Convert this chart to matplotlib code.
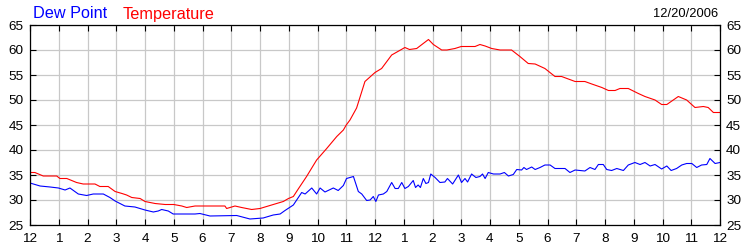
import matplotlib
matplotlib.use("Agg")
import matplotlib.pyplot as plt

plt.rcParams['font.family'] = ['Liberation Sans', 'DejaVu Sans']

# Hours since midnight (0..24)
temp_hours = [0.0, 0.17, 0.46, 0.93, 1.04, 1.28, 1.45, 1.62, 1.85, 2.26, 2.43, 2.72, 2.96,
              3.2, 3.36, 3.54, 3.83, 4.0, 4.35, 4.7, 5.0, 5.28, 5.45, 5.74, 6.03, 6.26,
              6.78, 6.84, 7.13, 7.36, 7.71, 8.0, 8.23, 8.52, 8.81, 8.99, 9.16, 9.33,
              9.62, 9.97, 10.32, 10.67, 10.9, 11.0, 11.13, 11.36, 11.65, 12.0, 12.23,
              12.58, 13.04, 13.2, 13.45, 13.86, 14.03, 14.32, 14.5, 14.78, 15.0, 15.48,
              15.65, 15.83, 16.06, 16.35, 16.75, 17.04, 17.33, 17.57, 17.91, 18.26,
              18.49, 18.96, 19.3, 19.54, 19.89, 20.12, 20.35, 20.52, 20.81, 21.16,
              21.39, 21.74, 21.97, 22.15, 22.55, 22.84, 23.13, 23.42, 23.59, 23.77, 24.0]
temp_values = [35.5, 35.5, 34.8, 34.8, 34.3, 34.3, 33.9, 33.5, 33.2, 33.2, 32.7, 32.7, 31.7,
               31.3, 31.0, 30.5, 30.3, 29.7, 29.3, 29.1, 29.1, 28.8, 28.5, 28.8, 28.8, 28.8,
               28.8, 28.3, 28.8, 28.5, 28.1, 28.3, 28.7, 29.2, 29.7, 30.3, 30.7, 32.2,
               34.7, 38.0, 40.3, 42.7, 44.0, 45.0, 46.0, 48.4, 53.7, 55.5, 56.3,
               59.0, 60.5, 60.1, 60.3, 62.1, 61.1, 60.0, 60.0, 60.3, 60.7, 60.7,
               61.1, 60.8, 60.3, 60.0, 60.0, 58.7, 57.3, 57.2, 56.3, 54.7,
               54.7, 53.7, 53.7, 53.2, 52.5, 51.9, 51.9, 52.3, 52.3, 51.3,
               50.7, 50.0, 49.1, 49.1, 50.7, 50.0, 48.5, 48.7, 48.5, 47.5, 47.5]

dew_hours = [0.0, 0.35, 0.7, 0.99, 1.22, 1.39, 1.68, 1.97, 2.2, 2.55, 2.78, 2.96, 3.3, 3.65,
             4.0, 4.29, 4.46, 4.58, 4.81, 4.98, 5.74, 5.91, 6.26, 7.19, 7.65, 8.11, 8.46,
             8.7, 8.87, 9.16, 9.45, 9.57, 9.8, 9.97, 10.09, 10.26, 10.55, 10.72, 10.9,
             11.01, 11.25, 11.42, 11.54, 11.71, 11.83, 11.94, 12.03, 12.12, 12.29, 12.41,
             12.58, 12.7, 12.81, 12.93, 13.04, 13.16, 13.33, 13.41, 13.5, 13.58, 13.68,
             13.77, 13.86, 13.94, 14.09, 14.26, 14.43, 14.52, 14.7, 14.9, 15.01, 15.13,
             15.22, 15.36, 15.51, 15.65, 15.74, 15.83, 15.94, 16.12, 16.35, 16.5, 16.64,
             16.81, 16.93, 17.1, 17.18, 17.27, 17.45, 17.57, 17.74, 17.91, 18.09, 18.26,
             18.61, 18.78, 18.96, 19.3, 19.48, 19.65, 19.77, 19.94, 20.06, 20.23, 20.41,
             20.64, 20.81, 21.04, 21.22, 21.39, 21.57, 21.74, 21.97, 22.15, 22.3, 22.49,
             22.67, 22.84, 23.02, 23.19, 23.36, 23.54, 23.65, 23.83, 24.0]
dew_values = [33.4, 32.8, 32.6, 32.4, 32.0, 32.4, 31.2, 30.9, 31.2, 31.2, 30.5, 29.8, 28.8, 28.6,
              28.0, 27.6, 27.8, 28.1, 27.8, 27.2, 27.2, 27.3, 26.8, 26.9, 26.2, 26.4, 27.0,
              27.2, 27.9, 29.0, 31.5, 31.2, 32.4, 31.2, 32.4, 31.6, 32.4, 31.9, 32.9,
              34.3, 34.7, 31.7, 31.2, 29.9, 30.0, 30.7, 29.7, 31.0, 31.2, 31.7,
              33.5, 32.3, 32.3, 33.5, 32.3, 32.7, 33.9, 32.5, 33.0, 32.5, 34.3,
              33.3, 33.5, 35.2, 34.5, 33.5, 33.6, 34.3, 33.2, 35.0, 33.5, 34.3,
              33.6, 35.2, 34.5, 34.7, 35.2, 34.3, 35.5, 35.2, 35.2, 35.5, 34.8,
              35.1, 36.1, 36.0, 36.5, 36.1, 36.6, 36.1, 36.5, 37.0, 37.0, 36.3,
              36.3, 35.5, 36.0, 35.8, 36.5, 36.1, 37.1, 37.1, 36.1, 35.9, 36.3,
              35.9, 37.0, 37.5, 37.1, 37.5, 36.8, 37.1, 36.2, 36.8, 35.9, 36.3,
              37.0, 37.3, 37.3, 36.5, 37.0, 37.1, 38.3, 37.3, 37.5]

x_ticks = list(range(0, 25))
x_tick_labels = ['12', '1', '2', '3', '4', '5', '6', '7', '8', '9', '10', '11',
                 '12', '1', '2', '3', '4', '5', '6', '7', '8', '9', '10', '11', '12']
y_ticks = [25, 30, 35, 40, 45, 50, 55, 60, 65]
date_text = '12/20/2006'

fig = plt.figure(figsize=(7.5, 2.5), dpi=100)
ax = fig.add_axes([30/750, 25/250, 690/750, 200/250])

ax.set_xlim(0, 24)
ax.set_ylim(25, 65)
ax.set_xticks(x_ticks)
ax.set_xticklabels(x_tick_labels)
ax.set_yticks(y_ticks)
ax.grid(True, color='#c8c8c8', linewidth=0.9)
ax.set_axisbelow(True)

ax.plot(temp_hours, temp_values, color='#ff0000', linewidth=0.8)
ax.plot(dew_hours, dew_values, color='#0000ff', linewidth=0.8)

ax.tick_params(direction='in', length=4, width=0.8, color='black',
               top=True, right=True, labelright=True, labelsize=9.7)
ax.tick_params(axis='y', pad=4.5)
ax.tick_params(axis='x', pad=6)
for s in ax.spines.values():
    s.set_linewidth(0.9)
    s.set_color('black')

fig.text(33/750, 1 - 18.5/250, 'Dew Point', color='#0000ff', fontsize=11.7, ha='left', va='baseline')
fig.text(123/750, 1 - 18.5/250, 'Temperature', color='#ff0000', fontsize=11.7, ha='left', va='baseline')
fig.text(718/750, 1 - 17/250, date_text, color='black', fontsize=9.3, ha='right', va='baseline')

fig.savefig('out.png', dpi=100)
